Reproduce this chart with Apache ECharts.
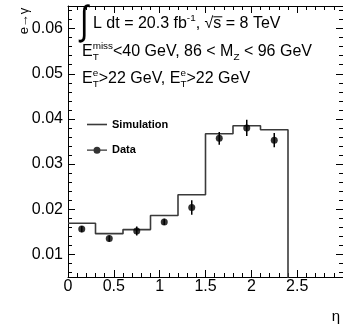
<!DOCTYPE html>
<html><head><meta charset="utf-8">
<script src="https://cdn.jsdelivr.net/npm/echarts@6/dist/echarts.min.js"></script>
<style>html,body{margin:0;padding:0;background:#fff}#c{width:343px;height:325px}</style>
</head><body><div id="c"></div>
<script>
// ---- data ----
const binEdges = [0, 0.3, 0.6, 0.9, 1.2, 1.5, 1.8, 2.1, 2.4];
const simValues = [0.0169, 0.0146, 0.0155, 0.0186, 0.0232, 0.0367, 0.0385, 0.0376];
const dataEta = [0.15, 0.45, 0.75, 1.05, 1.35, 1.65, 1.95, 2.25];
const dataValues = [0.0156, 0.0135, 0.0152, 0.0172, 0.0204, 0.0357, 0.0380, 0.0353];
const dataErrors = [0.0007, 0.0007, 0.0010, 0.0007, 0.0016, 0.0014, 0.0018, 0.0016];
const xRange = [0, 3];
const yRange = [0.005, 0.065];
const seriesNames = ['Simulation', 'Data'];

// ---- helpers ----
const FONT = '"Liberation Sans", Arial, Helvetica, sans-serif';
const ctx = document.createElement('canvas').getContext('2d');
function tw(t, s) { ctx.font = s + 'px ' + FONT; return ctx.measureText(t).width; }
function txt(t, x, base, size) {
  return { type: 'text', x: x, y: base - size * 0.34,
    style: { text: t, fontSize: size, fontFamily: FONT, fill: '#000', align: 'left', verticalAlign: 'middle' } };
}
function buildLine(parts, x0, base, size) {
  const els = []; let x = x0;
  parts.forEach(p => {
    if (typeof p === 'string') { els.push(txt(p, x, base, size)); x += tw(p, size); }
    else {
      const ss = size * 0.62; let wm = 0;
      if (p.sup) { els.push(txt(p.sup, x, base - size * 0.45, ss)); wm = Math.max(wm, tw(p.sup, ss)); }
      if (p.sub) { els.push(txt(p.sub, x, base + size * 0.22, ss)); wm = Math.max(wm, tw(p.sub, ss)); }
      x += wm;
    }
  });
  return { els: els, end: x };
}

const S = 16;
const line1a = buildLine(['L dt = 20.3 fb', { sup: '-1' }, ', \u221A'], 93, 29.3, S);
const sX = line1a.end;
const line1b = buildLine(['s', ' = 8 TeV'], sX, 29.3, S);
const line2 = buildLine(['E', { sup: 'miss', sub: 'T' }, '<40 GeV, 86 < M', { sub: 'Z' }, ' < 96 GeV'], 82, 57.3, S);
const line3 = buildLine(['E', { sup: 'e', sub: 'T' }, '>22 GeV, E', { sup: 'e', sub: 'T' }, '>22 GeV'], 82, 84, S);

const graphics = [].concat(line1a.els, line1b.els, line2.els, line3.els, [
  { type: 'text', x: 80, y: 23, scaleY: 1.35, style: { text: '\u222B', fontSize: 30, fontFamily: FONT, fill: '#000', align: 'left', verticalAlign: 'middle' } },
  { type: 'line', shape: { x1: sX, y1: 29.3 - 12.5, x2: sX + tw('s', S) + 1, y2: 29.3 - 12.5 }, style: { stroke: '#000', lineWidth: 1 } },
  { type: 'text', x: 24, y: 21, rotation: Math.PI / 2, style: { text: 'e\u2192\u03B3', fontSize: 13, fontFamily: FONT, fill: '#000', align: 'center', verticalAlign: 'middle' } },
  { type: 'text', x: 336, y: 317, style: { text: '\u03B7', fontSize: 15, fontFamily: FONT, fill: '#000', align: 'center', verticalAlign: 'middle' } }
]);

const simLine = binEdges.slice(0, -1).map((e, i) => [e, simValues[i]]);
simLine.push([binEdges[binEdges.length - 1], simValues[simValues.length - 1]]);
simLine.push([binEdges[binEdges.length - 1], 0]);

const axisCommon = {
  axisLine: { show: true, onZero: false, lineStyle: { color: '#000', width: 1 } },
  axisTick: { show: true, inside: true, length: 7, lineStyle: { color: '#000', width: 1 } },
  minorTick: { show: true, splitNumber: 5, length: 4, lineStyle: { color: '#000', width: 1 } },
  splitLine: { show: false }, minorSplitLine: { show: false }
};
const xBase = Object.assign({ type: 'value', min: xRange[0], max: xRange[1], interval: 0.5 }, axisCommon);
const yBase = Object.assign({ type: 'value', min: yRange[0], max: yRange[1], splitNumber: 6 }, axisCommon);

const chart = echarts.init(document.getElementById('c'), null, { renderer: 'canvas' });
chart.setOption({
  animation: false,
  backgroundColor: '#fff',
  grid: { left: 68, top: 6, width: 281, height: 271 },
  xAxis: [
    Object.assign({}, xBase, { position: 'bottom',
      axisLabel: { show: true, fontSize: 16, fontFamily: FONT, color: '#000', margin: 2, showMaxLabel: false,
        formatter: v => String(+v.toFixed(1)) } }),
    Object.assign({}, xBase, { position: 'top', axisLabel: { show: false } })
  ],
  yAxis: [
    Object.assign({}, yBase, { position: 'left',
      axisLabel: { show: true, fontSize: 16, fontFamily: FONT, color: '#000', margin: 5, showMinLabel: false, showMaxLabel: false,
        formatter: v => v.toFixed(2) } }),
    Object.assign({}, yBase, { position: 'right', axisLabel: { show: false } })
  ],
  legend: {
    left: 87, top: 119, padding: 0, orient: 'vertical', itemWidth: 20, itemHeight: 10, itemGap: 14.7,
    textStyle: { fontFamily: FONT, fontWeight: 'bold', fontSize: 11, color: '#000' },
    data: [
      { name: seriesNames[0], icon: 'path://M0,4.2H20V5.8H0Z' },
      { name: seriesNames[1], icon: 'path://M0,4.4H20V5.6H0Z M13.5,5A3.5,3.5,0,1,1,6.5,5A3.5,3.5,0,1,1,13.5,5Z' }
    ]
  },
  graphic: graphics,
  series: [
    { name: seriesNames[0], type: 'line', step: 'end', data: simLine, showSymbol: false, symbol: 'none',
      lineStyle: { color: '#3a3a3a', width: 1.6 }, itemStyle: { color: '#3a3a3a' }, clip: true, z: 2 },
    { name: 'errors', type: 'custom', silent: true, z: 3,
      data: dataEta.map((x, i) => [x, dataValues[i], dataErrors[i]]),
      renderItem: (params, api) => {
        const x = api.value(0), y = api.value(1), e = api.value(2);
        const p1 = api.coord([x, y - e]), p2 = api.coord([x, y + e]);
        return { type: 'line', shape: { x1: p1[0], y1: p1[1], x2: p2[0], y2: p2[1] }, style: { stroke: '#000', lineWidth: 1.5 } };
      } },
    { name: seriesNames[1], type: 'scatter', symbol: 'circle', symbolSize: 7, z: 4,
      data: dataEta.map((x, i) => [x, dataValues[i]]), itemStyle: { color: '#000' } }
  ]
});
</script>
</body></html>
